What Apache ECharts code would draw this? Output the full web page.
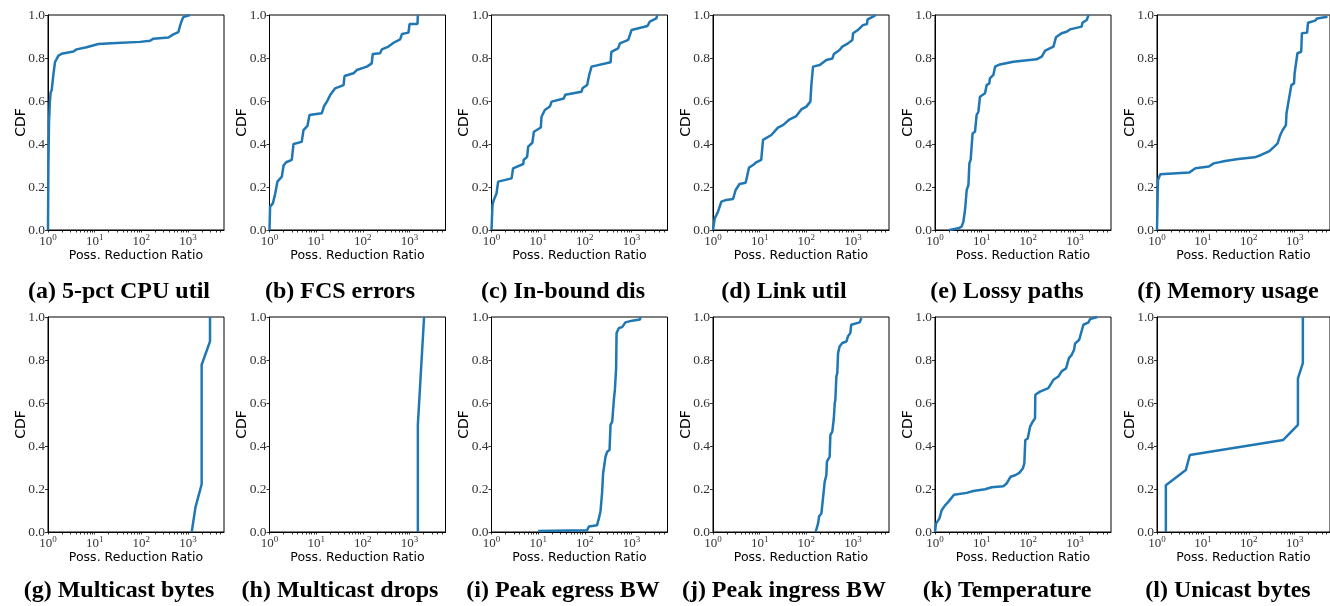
<!DOCTYPE html>
<html><head><meta charset="utf-8">
<script src="https://cdn.jsdelivr.net/npm/echarts@6/dist/echarts.min.js"></script>
<style>html,body{margin:0;padding:0;background:#fff}#c{width:1330px;height:606px}</style>
</head><body><div id="c"></div>
<script>
const captions = ['(a) 5-pct CPU util','(b) FCS errors','(c) In-bound dis','(d) Link util','(e) Lossy paths','(f) Memory usage',
  '(g) Multicast bytes','(h) Multicast drops','(i) Peak egress BW','(j) Peak ingress BW','(k) Temperature','(l) Unicast bytes'];
const xAxisName = 'Poss. Reduction Ratio';
const yAxisName = 'CDF';
const xMajorTicks = [1, 10, 100, 1000];
const xMinorTicks = [2,3,4,5,6,7,8,9,20,30,40,50,60,70,80,90,200,300,400,500,600,700,800,900,2000,3000,4000,5000];

const cpuX = [1, 1.02, 1.05, 1.1, 1.14, 1.2, 1.3, 1.41, 1.66, 1.96, 3.5, 4.1, 6.7, 12, 29.6, 94, 154, 181, 380, 485, 620, 675, 725, 790, 1100];
const cpuY = [0, 0.3, 0.5, 0.6, 0.64, 0.65, 0.72, 0.78, 0.81, 0.82, 0.83, 0.84, 0.85, 0.865, 0.87, 0.875, 0.88, 0.89, 0.895, 0.91, 0.92, 0.95, 0.97, 0.99, 1.0];

const fcsX = [1, 1.03, 1.18, 1.32, 1.48, 1.84, 2.0, 2.27, 3.0, 3.27, 4.9, 5.35, 6.5, 7.2, 13.2, 14.8, 17, 20, 25.5, 38.6, 40.5, 63, 74, 122, 155, 163, 234, 255, 355, 455, 630, 690, 950, 1000, 1480, 1510];
const fcsY = [0, 0.109, 0.124, 0.167, 0.225, 0.248, 0.3, 0.315, 0.326, 0.4, 0.41, 0.465, 0.484, 0.535, 0.543, 0.577, 0.597, 0.628, 0.659, 0.674, 0.716, 0.729, 0.744, 0.76, 0.775, 0.819, 0.822, 0.84, 0.853, 0.871, 0.887, 0.912, 0.918, 0.958, 0.958, 1.0];

const inbX = [1, 1.05, 1.12, 1.28, 1.39, 2.7, 2.9, 4.8, 4.9, 5.8, 6.1, 7.5, 8.1, 11.4, 11.8, 13.9, 17.8, 19.4, 35.5, 38, 85, 89, 112, 124, 139, 356, 370, 515, 565, 850, 1000, 2200, 2460, 3400, 3550];
const inbY = [0, 0.116, 0.14, 0.17, 0.225, 0.24, 0.287, 0.307, 0.326, 0.34, 0.388, 0.406, 0.457, 0.477, 0.527, 0.558, 0.574, 0.597, 0.612, 0.629, 0.643, 0.659, 0.674, 0.721, 0.76, 0.78, 0.829, 0.845, 0.868, 0.884, 0.93, 0.949, 0.969, 0.984, 1.0];

const linkX = [1, 1.09, 1.28, 1.51, 1.93, 2.68, 3.06, 3.7, 5.0, 5.35, 5.9, 7.2, 8.2, 10.8, 11.8, 17.8, 24.6, 31.6, 44, 61, 78, 100, 122, 128, 139, 194, 268, 362, 390, 515, 590, 780, 970, 1000, 1270, 1630, 1990, 2050, 2680, 3080];
const linkY = [0, 0.054, 0.085, 0.132, 0.14, 0.144, 0.186, 0.214, 0.22, 0.248, 0.29, 0.302, 0.313, 0.326, 0.419, 0.442, 0.476, 0.488, 0.515, 0.53, 0.561, 0.574, 0.597, 0.674, 0.76, 0.767, 0.791, 0.798, 0.819, 0.837, 0.853, 0.868, 0.884, 0.915, 0.93, 0.953, 0.958, 0.98, 0.992, 1.0];

const lossX = [2.04, 3.16, 3.72, 4.06, 4.4, 4.78, 5.2, 5.45, 5.8, 6.4, 7.2, 7.8, 8.5, 9.2, 11.8, 12.8, 14.6, 15, 17.8, 19.4, 24.6, 47.6, 150, 194, 229, 345, 390, 515, 660, 780, 1390, 1440, 1780, 1950];
const lossY = [0, 0.008, 0.016, 0.039, 0.093, 0.186, 0.209, 0.31, 0.326, 0.45, 0.457, 0.535, 0.55, 0.62, 0.636, 0.674, 0.682, 0.705, 0.721, 0.76, 0.77, 0.783, 0.794, 0.806, 0.834, 0.853, 0.896, 0.915, 0.922, 0.933, 0.946, 0.964, 0.977, 1.0];

const memX = [1, 1.05, 1.18, 5.0, 6.9, 13.5, 17.2, 30.6, 59, 134, 186, 282, 360, 425, 487, 550, 645, 665, 720, 745, 820, 850, 970, 1000, 1100, 1150, 1390, 1440, 1870, 1960, 2800, 3080, 5200];
const memY = [0, 0.233, 0.259, 0.267, 0.287, 0.295, 0.31, 0.321, 0.33, 0.338, 0.349, 0.367, 0.388, 0.403, 0.442, 0.465, 0.488, 0.543, 0.546, 0.605, 0.612, 0.674, 0.682, 0.729, 0.736, 0.822, 0.829, 0.915, 0.918, 0.964, 0.974, 0.984, 0.992];

const mcbX = [1200, 1450, 1960, 1960, 2960, 2960];
const mcbY = [0, 0.117, 0.222, 0.778, 0.887, 1.0];

const mcdX = [1510, 1510, 2050];
const mcdY = [0, 0.5, 1.0];

const egX = [10, 112, 122, 182, 199, 217, 235, 246, 268, 277, 300, 338, 355, 386, 418, 440, 468, 478, 537, 630, 740, 1030, 1510, 1560];
const egY = [0.005, 0.008, 0.026, 0.031, 0.062, 0.098, 0.187, 0.272, 0.28, 0.35, 0.373, 0.381, 0.498, 0.513, 0.614, 0.661, 0.762, 0.925, 0.949, 0.953, 0.975, 0.983, 0.988, 1.0];

const ingX = [158, 178, 188, 210, 229, 247, 268, 276, 316, 327, 360, 388, 406, 418, 440, 460, 478, 515, 590, 720, 780, 875, 915, 1390, 1510];
const ingY = [0, 0.039, 0.073, 0.086, 0.163, 0.233, 0.264, 0.327, 0.35, 0.451, 0.467, 0.529, 0.599, 0.614, 0.723, 0.739, 0.832, 0.863, 0.879, 0.886, 0.91, 0.925, 0.964, 0.975, 0.995];

const tempX = [1, 1.05, 1.24, 1.39, 1.64, 1.93, 2.55, 4.8, 6.6, 11.8, 16.4, 29, 34.3, 41.7, 52, 64, 76, 82, 86, 97, 109, 124, 139, 141, 178, 268, 345, 440, 515, 645, 740, 850, 955, 1000, 1230, 1510, 1950, 2090, 3020];
const tempY = [0, 0.039, 0.062, 0.101, 0.124, 0.14, 0.173, 0.182, 0.191, 0.199, 0.208, 0.213, 0.226, 0.257, 0.264, 0.275, 0.295, 0.319, 0.428, 0.435, 0.49, 0.513, 0.529, 0.638, 0.653, 0.669, 0.708, 0.723, 0.747, 0.762, 0.809, 0.824, 0.848, 0.876, 0.894, 0.964, 0.975, 0.99, 1.0];

const ucX = [1.56, 1.56, 4.25, 5.2, 565, 1180, 1180, 1510, 1510];
const ucY = [0, 0.218, 0.288, 0.358, 0.428, 0.498, 0.715, 0.785, 1.0];

const panels = [[cpuX,cpuY],[fcsX,fcsY],[inbX,inbY],[linkX,linkY],[lossX,lossY],[memX,memY],
  [mcbX,mcbY],[mcdX,mcdY],[egX,egY],[ingX,ingY],[tempX,tempY],[ucX,ucY]];

const gridLeft = [48, 269.5, 491.5, 713, 935, 1157];
const gridTop = [15, 317];
const gridW = 176, gridH = 215;
const capX = [119, 340, 563, 784, 1007, 1228];
const capY = [292, 591];

const chart = echarts.init(document.getElementById('c'), null, {renderer:'canvas'});
const grids = [], xAxes = [], yAxes = [], series = [], graphics = [];
const tickColor = '#000';
for (let i = 0; i < 12; i++) {
  const col = i % 6, row = Math.floor(i / 6);
  grids.push({left: gridLeft[col], top: gridTop[row], width: gridW, height: gridH,
    show: true, borderColor: '#000', borderWidth: 1, backgroundColor: 'transparent', containLabel: false});
  xAxes.push({
    type: 'log', logBase: 10, gridIndex: i, min: 1, max: 5900,
    axisLine: {show: true, lineStyle: {color: '#000', width: 1}},
    axisTick: {show: true, inside: false, length: 2.5, customValues: xMajorTicks.concat(xMinorTicks), lineStyle: {color: tickColor, width: 0.8}},
    axisLabel: {customValues: xMajorTicks, margin: 3,
      formatter: v => '{b|10}{s|' + Math.round(Math.log10(v)) + '}',
      rich: {
        b: {fontFamily: 'Liberation Serif', fontSize: 13, color: '#333', lineHeight: 15, verticalAlign: 'bottom'},
        s: {fontFamily: 'Liberation Serif', fontSize: 9, color: '#333', lineHeight: 15, verticalAlign: 'top', padding: [0, 0, 6, 0]}
      }},
    splitLine: {show: false},
    name: xAxisName, nameLocation: 'middle', nameGap: 14,
    nameTextStyle: {fontFamily: 'DejaVu Sans', fontSize: 12.5, color: '#000'}
  });
  yAxes.push({
    type: 'value', gridIndex: i, min: 0, max: 1, interval: 0.2,
    axisLine: {show: true, lineStyle: {color: '#000', width: 1}},
    axisTick: {show: true, inside: false, length: 3, lineStyle: {color: tickColor, width: 0.8}},
    axisLabel: {margin: 3, formatter: v => v.toFixed(1), fontFamily: 'Liberation Serif', fontSize: 13.5, color: '#333'},
    splitLine: {show: false},
    name: yAxisName, nameLocation: 'middle', nameGap: 20, nameRotate: 90, nameMoveOverlap: false,
    nameTextStyle: {fontFamily: 'DejaVu Sans', fontSize: 14, color: '#000'}
  });
  const [xs, ys] = panels[i];
  series.push({type: 'line', xAxisIndex: i, yAxisIndex: i, data: xs.map((x, k) => [x, ys[k]]),
    showSymbol: false, symbol: 'none', lineStyle: {color: '#1f77b4', width: 2.5}, clip: true});
  graphics.push({type: 'text', x: capX[col], y: capY[row],
    style: {text: captions[i], font: 'bold 24px "Liberation Serif"', fill: '#000', align: 'center', verticalAlign: 'middle'}});
}
chart.setOption({animation: false, backgroundColor: '#fff', grid: grids, xAxis: xAxes, yAxis: yAxes, series: series, graphic: graphics});
</script></body></html>
